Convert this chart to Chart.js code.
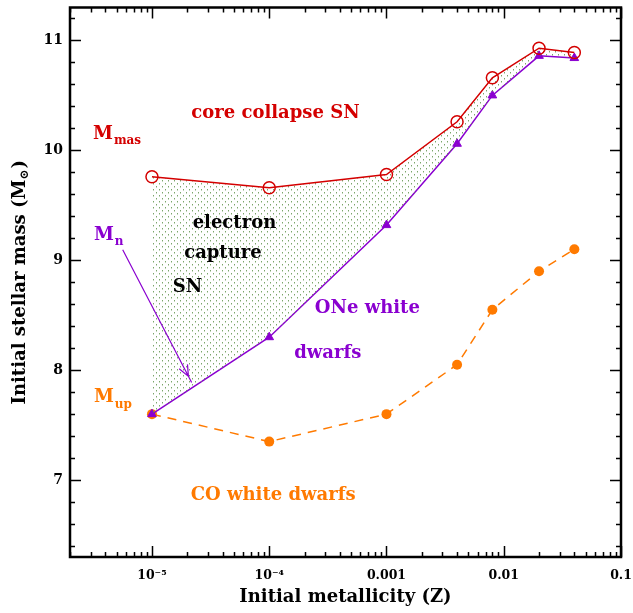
<!DOCTYPE html>
<html>
<head>
<title>Initial stellar mass vs metallicity</title>
<script src="https://cdn.jsdelivr.net/npm/chart.js@4"></script>
<style>
  body { margin: 0; background: #fff; }
</style>
</head>
<body>
<canvas id="grafico" width="633" height="613"></canvas>
<script>
// values
const metallicity = [1e-5, 1e-4, 0.001, 0.004, 0.008, 0.02, 0.04];
const mMas = [9.76, 9.66, 9.78, 10.26, 10.66, 10.93, 10.89];
const mN = [7.6, 8.3, 9.32, 10.06, 10.5, 10.86, 10.84];
const mUp = [7.6, 7.35, 7.6, 8.05, 8.55, 8.9, 9.1];

const xDecades = [1e-5, 1e-4, 1e-3, 1e-2, 1e-1];
const xDecadeLabels = ['10⁻⁵', '10⁻⁴', '0.001', '0.01', '0.1'];
const yLabels = [7, 8, 9, 10, 11];

const RED = '#d40000';
const PURPLE = '#8a00d0';
const ORANGE = '#ff7a00';
const FONT = '"DejaVu Serif", serif';

// annotations: text, subscript, Z, mass, colour, align
const notes = [
  ['core collapse SN', '', 1.13e-4, 10.34, RED, 'center'],
  ['M', 'mas', 3.14e-6, 10.15, RED, 'left'],
  ['M', 'n', 3.2e-6, 9.23, PURPLE, 'left'],
  ['electron', '', 5.05e-5, 9.34, '#000', 'center'],
  ['capture', '', 4.03e-5, 9.06, '#000', 'center'],
  ['SN', '', 2.01e-5, 8.75, '#000', 'center'],
  ['ONe white', '', 6.87e-4, 8.56, PURPLE, 'center'],
  ['dwarfs', '', 3.16e-4, 8.15, PURPLE, 'center'],
  ['M', 'up', 3.2e-6, 7.75, ORANGE, 'left'],
  ['CO white dwarfs', '', 1.08e-4, 6.86, ORANGE, 'center']
];
// arrow from the M_n label into the shaded band
const arrowFrom = [5.63e-6, 9.095];
const arrowTo = [2.18e-5, 7.887];

const canvas = document.getElementById('grafico');
const ctx = canvas.getContext('2d');

function dotPattern() {
  const c = document.createElement('canvas');
  c.width = 6; c.height = 6;
  const g = c.getContext('2d');
  g.fillStyle = 'rgba(100,150,80,0.85)';
  g.fillRect(0, 0, 1, 1);
  g.fillRect(3, 3, 1, 1);
  g.fillStyle = 'rgba(100,150,80,0.4)';
  g.fillRect(0, 1, 1, 1);
  g.fillRect(3, 4, 1, 1);
  return ctx.createPattern(c, 'repeat');
}

const pts = arr => arr.map((v, i) => ({ x: metallicity[i], y: v }));

const decorations = {
  id: 'decorations',
  afterDatasetsDraw(chart) {
    const { ctx, scales: { x, y } } = chart;
    ctx.save();

    // arrow
    const x0 = x.getPixelForValue(arrowFrom[0]), y0 = y.getPixelForValue(arrowFrom[1]);
    const x1 = x.getPixelForValue(arrowTo[0]), y1 = y.getPixelForValue(arrowTo[1]);
    ctx.strokeStyle = PURPLE;
    ctx.lineWidth = 1.2;
    ctx.beginPath();
    ctx.moveTo(x0, y0);
    ctx.lineTo(x1, y1);
    const ang = Math.atan2(y1 - y0, x1 - x0);
    const len = Math.hypot(x1 - x0, y1 - y0);
    const tx = x0 + Math.cos(ang) * (len - 7), ty = y0 + Math.sin(ang) * (len - 7);
    [-0.4, 0.4].forEach(d => {
      ctx.moveTo(tx, ty);
      ctx.lineTo(tx - Math.cos(ang + d) * 12, ty - Math.sin(ang + d) * 12);
    });
    ctx.stroke();

    // region labels
    ctx.textBaseline = 'middle';
    notes.forEach(([txt, sub, zx, my, col, align]) => {
      const px = x.getPixelForValue(zx);
      const py = y.getPixelForValue(my);
      ctx.fillStyle = col;
      ctx.font = 'bold 18px ' + FONT;
      ctx.textAlign = align;
      ctx.fillText(txt, px, py);
      if (sub) {
        const w = ctx.measureText(txt).width;
        ctx.font = 'bold 12px ' + FONT;
        ctx.textAlign = 'left';
        ctx.fillText(sub, px + w + 1, py + 7);
      }
    });
    ctx.restore();
  },
  afterDraw(chart) {
    const { ctx, chartArea: a, scales: { x, y } } = chart;
    ctx.save();
    ctx.strokeStyle = '#000';
    ctx.lineWidth = 1.5;
    ctx.beginPath();
    x.ticks.forEach(t => {
      const px = Math.round(x.getPixelForValue(t.value)) + 0.5;
      const l = t.major ? 11 : 5;
      ctx.moveTo(px, a.bottom); ctx.lineTo(px, a.bottom - l);
      ctx.moveTo(px, a.top); ctx.lineTo(px, a.top + l);
    });
    y.ticks.forEach(t => {
      const py = Math.round(y.getPixelForValue(t.value)) + 0.5;
      const l = t.major ? 11 : 5;
      ctx.moveTo(a.left, py); ctx.lineTo(a.left + l, py);
      ctx.moveTo(a.right, py); ctx.lineTo(a.right - l, py);
    });
    ctx.stroke();
    ctx.lineWidth = 2.5;
    ctx.strokeRect(a.left, a.top, a.right - a.left, a.bottom - a.top);

    // axis titles
    ctx.fillStyle = '#000';
    ctx.font = 'bold 18px ' + FONT;
    ctx.textAlign = 'center';
    ctx.textBaseline = 'middle';
    ctx.fillText('Initial metallicity (Z)', (a.left + a.right) / 2, a.bottom + 40);

    ctx.translate(20, (a.top + a.bottom) / 2);
    ctx.rotate(-Math.PI / 2);
    const main = 'Initial stellar mass (M';
    const wMain = ctx.measureText(main).width;
    ctx.font = 'bold 12px ' + FONT;
    const wSub = ctx.measureText('⊙').width;
    ctx.font = 'bold 18px ' + FONT;
    const wEnd = ctx.measureText(')').width;
    let sx = -(wMain + wSub + wEnd + 1) / 2;
    ctx.textAlign = 'left';
    ctx.fillText(main, sx, 0);
    sx += wMain;
    ctx.font = 'bold 12px ' + FONT;
    ctx.fillText('⊙', sx, 5);
    sx += wSub + 1;
    ctx.font = 'bold 18px ' + FONT;
    ctx.fillText(')', sx, 0);
    ctx.restore();
  }
};

new Chart(ctx, {
  type: 'line',
  data: {
    datasets: [{
      label: 'M_mas',
      data: pts(mMas),
      borderColor: RED,
      borderWidth: 1.5,
      backgroundColor: dotPattern(),
      fill: '+1',
      pointStyle: 'circle',
      pointRadius: 6,
      pointBorderWidth: 1.5,
      pointBorderColor: RED,
      pointBackgroundColor: 'rgba(0,0,0,0)'
    }, {
      label: 'M_n',
      data: pts(mN),
      borderColor: PURPLE,
      borderWidth: 1.5,
      backgroundColor: PURPLE,
      fill: false,
      pointStyle: 'triangle',
      pointRadius: 5,
      pointBorderWidth: 1
    }, {
      label: 'M_up',
      data: pts(mUp),
      borderColor: ORANGE,
      borderWidth: 1.5,
      borderDash: [9, 7],
      backgroundColor: ORANGE,
      fill: false,
      pointStyle: 'circle',
      pointRadius: 5,
      pointBorderWidth: 0
    }]
  },
  options: {
    responsive: false,
    animation: false,
    layout: { padding: { top: 5, right: 12, left: 0, bottom: 0 } },
    plugins: { legend: { display: false }, tooltip: { enabled: false } },
    scales: {
      x: {
        type: 'logarithmic',
        min: 2e-6,
        max: 0.1,
        grid: { display: false },
        border: { display: false },
        afterBuildTicks: s => {
          const ticks = [];
          [1e-6, ...xDecades].forEach(d => {
            for (let m = 1; m <= 9; m++) {
              const v = m * d;
              if (v >= s.min * 0.999 && v <= s.max * 1.001) ticks.push({ value: v, major: m === 1 });
            }
          });
          s.ticks = ticks;
        },
        afterFit: s => {
          s.height = 56;
          s.paddingLeft = 0;
          s.paddingRight = 0;
        },
        ticks: {
          autoSkip: false,
          maxRotation: 0,
          padding: 3,
          color: '#000',
          font: { family: FONT, weight: 'bold', size: 12.5 },
          callback: v => {
            const i = xDecades.indexOf(v);
            return i >= 0 ? xDecadeLabels[i] : '';
          }
        }
      },
      y: {
        min: 6.3,
        max: 11.3,
        grid: { display: false, drawTicks: false },
        border: { display: false },
        afterBuildTicks: s => {
          const ticks = [];
          for (let i = 32; i <= 56; i++) ticks.push({ value: i / 5, major: i % 5 === 0 });
          s.ticks = ticks;
        },
        afterFit: s => {
          s.width = 70;
          s.paddingTop = 0;
          s.paddingBottom = 0;
        },
        ticks: {
          autoSkip: false,
          padding: 7,
          color: '#000',
          font: { family: FONT, weight: 'bold', size: 14 },
          callback: v => (yLabels.includes(Math.round(v)) && Math.abs(v - Math.round(v)) < 1e-6) ? String(Math.round(v)) : ''
        }
      }
    }
  },
  plugins: [decorations]
});
</script>
</body>
</html>
